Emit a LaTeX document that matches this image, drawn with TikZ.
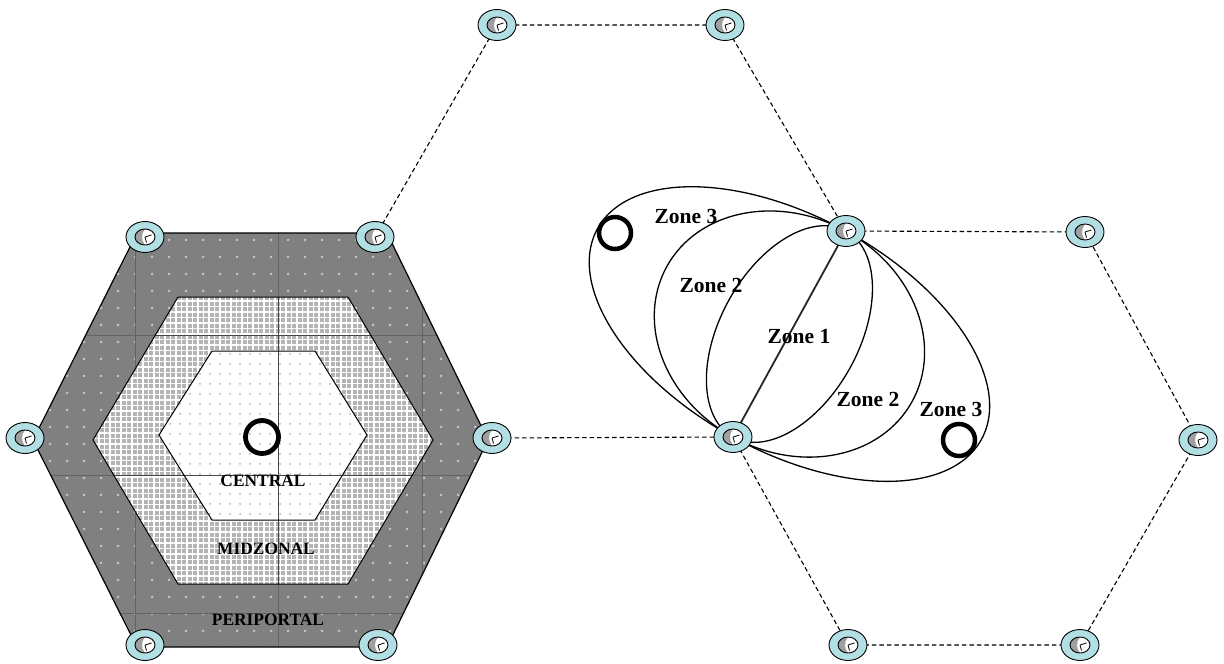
\documentclass[tikz,border=0pt]{standalone}
\usepackage{fontspec}
\setmainfont{Liberation Serif}
\usetikzlibrary{patterns.meta}
\definecolor{ring}{RGB}{178,223,228}
\definecolor{peri}{RGB}{128,128,128}
\definecolor{midz}{RGB}{180,180,180}
\definecolor{faint}{RGB}{100,100,100}
\definecolor{darkgrid}{RGB}{70,70,70}
\tikzset{
  portal/.pic={
    \draw[line width=0.9pt, fill=ring] (0pt,0pt) ellipse[x radius=19pt, y radius=15.5pt];
    \fill[white] (0pt,0pt) ellipse[x radius=10pt, y radius=8pt];
    \fill[gray!75] (0pt,8pt) arc[start angle=90, end angle=270, x radius=10pt, y radius=8pt]
      .. controls (-4pt,-3pt) and (-4pt,3pt) .. (0pt,8pt);
    \draw[line width=0.8pt] (0pt,0pt) -- (6.5pt,2pt) (0pt,0pt) -- (1.5pt,-5.5pt);
    \draw[line width=0.9pt] (0pt,0pt) ellipse[x radius=10pt, y radius=8pt];
  },
  hexline/.style={draw=black, line width=1pt},
  dashedge/.style={draw=black, dash pattern=on 4.5pt off 3pt, line width=1.1pt},
  zoneline/.style={draw=black, line width=1.3pt},
  vein/.style={draw=black, line width=4.8pt},
  zlabel/.style={font=\bfseries\fontsize{21.5}{24}\selectfont, inner sep=0pt, anchor=base},
  hlabel/.style={font=\bfseries\fontsize{17.4}{20}\selectfont, inner sep=0pt, anchor=base},
}
\begin{document}
\begin{tikzpicture}[x=1pt,y=-1pt]
\useasboundingbox (0,0) rectangle (1224,664);
\fill[white] (0,0) rectangle (1224,664);

% ---------- left lobule (zonation) ----------
\def\outerhex{(137,233) -- (387,233) -- (488,440) -- (387,647) -- (137,647) -- (33,440) -- cycle}
\def\midhex{(178,297) -- (348,297) -- (433,440) -- (348,584) -- (178,584) -- (93,440) -- cycle}
\def\cenhex{(212,351) -- (315,351) -- (367,435) -- (315,520) -- (212,520) -- (159,435) -- cycle}

\fill[peri] \outerhex;
\path[pattern={Dots[distance=17pt, radius=1.5pt]}, pattern color=gray!45] \outerhex;
\begin{scope}
  \clip \outerhex;
  \draw[faint, line width=0.8pt] (135,200) -- (135,664) (278,200) -- (278,664) (422,200) -- (422,664)
    (0,335) -- (500,335) (0,475) -- (500,475) (0,613) -- (500,613);
\end{scope}
\fill[midz] \midhex;
\path[pattern={Hatch[distance=5.5pt, line width=1.8pt]}, pattern color=white] \midhex;
\fill[white] \cenhex;
\path[pattern={Dots[distance=10pt, radius=1pt]}, pattern color=gray!60] \cenhex;
\begin{scope}
  \clip \midhex;
  \draw[darkgrid, line width=0.9pt] (278,280) -- (278,600) (80,335) -- (450,335) (80,475) -- (450,475);
\end{scope}
\draw[hexline, line width=1.2pt] \outerhex;
\draw[hexline] \midhex;
\draw[hexline] \cenhex;

\node[hlabel] (lcentral) at (263,486) {CENTRAL};
\node[hlabel] (lmid) at (266,554) {MIDZONAL};
\node[hlabel] (lperi) at (268,625) {PERIPORTAL};
\draw[vein] (262,437) circle[radius=16.5pt];

% ---------- right lobules (acinus) ----------
\coordinate (a1) at (145,237);
\coordinate (a2) at (375,237);
\coordinate (a3) at (492,438);
\coordinate (a4) at (378,645);
\coordinate (a5) at (145,645);
\coordinate (a6) at (25,438);
\coordinate (t1) at (497,25);
\coordinate (t2) at (725,25);
\coordinate (P1) at (733,437);
\coordinate (P2) at (846,231);
\coordinate (r2) at (1085,232);
\coordinate (r3) at (1198,440);
\coordinate (r4) at (1080,645);
\coordinate (r5) at (848,645);
\coordinate (M) at (789.5,334);

\draw[dashedge] (a2) -- (t1) -- (t2) -- (P2) -- (r2) -- (r3) -- (r4) -- (r5) -- (P1);
\draw[dashedge] (a3) -- (P1);

\draw[zoneline, rotate around={61.26:(M)}] (M) ellipse[x radius=117.5pt, y radius=69.4pt];
\draw[zoneline, rotate around={61.26:(M)}] (M) ellipse[x radius=117.5pt, y radius=140pt];
\draw[zoneline, rotate around={61.26:(M)}] (M) ellipse[x radius=117.5pt, y radius=219pt];
\draw[line width=1.8pt, black!85] (P1) -- (P2);

\node[zlabel] (z3a) at (686,223) {Zone 3};
\node[zlabel] (z2a) at (711,292) {Zone 2};
\node[zlabel] (z1) at (799,343) {Zone 1};
\node[zlabel] (z2b) at (868,406) {Zone 2};
\node[zlabel] (z3b) at (951,416) {Zone 3};

\draw[vein, line width=4.5pt] (615,233) circle[radius=16pt];
\draw[vein, line width=4.5pt] (959,440) circle[radius=16pt];

% ---------- portal triads ----------
\foreach \p in {a1,a2,a3,a4,a5,a6,t1,t2,P1,P2,r2,r3,r4,r5}
  \pic at (\p) {portal};
\end{tikzpicture}
\end{document}
